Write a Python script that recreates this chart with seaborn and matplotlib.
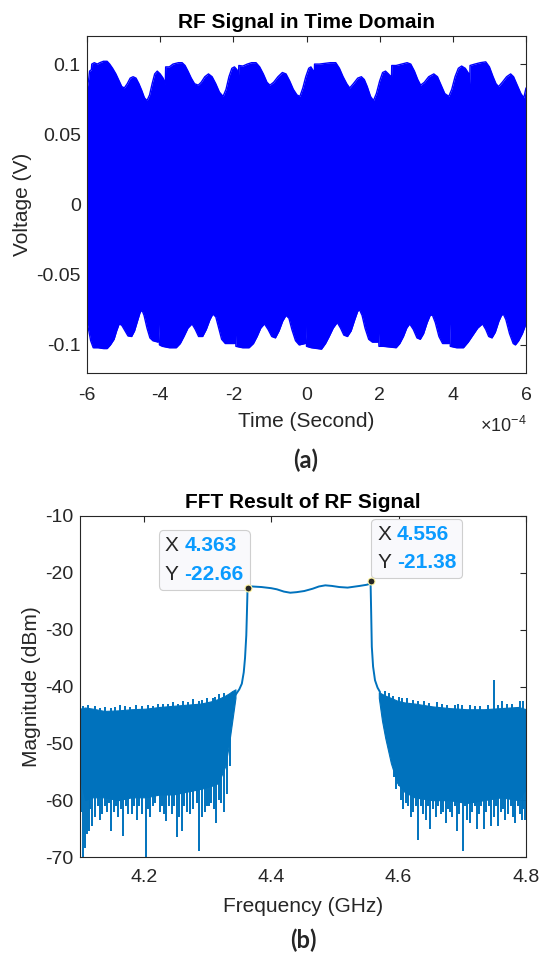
import matplotlib
matplotlib.use("Agg")
import matplotlib.pyplot as plt
import numpy as np
import pandas as pd
import seaborn as sns
from matplotlib.offsetbox import TextArea, HPacker, VPacker, AnnotationBbox

# ---- (a) time-domain envelope, time in units of 1e-4 s ----
t_up = [-6.00, -5.95, -5.93, -5.88, -5.87, -5.80, -5.72, -5.65, -5.55, -5.45, -5.38, -5.30,
        -5.21, -5.12, -5.05, -4.98, -4.90, -4.82, -4.74, -4.66, -4.58, -4.50, -4.43, -4.36,
        -4.29, -4.22, -4.15, -4.08, -4.00, -3.92, -3.86, -3.85, -3.75, -3.65, -3.50, -3.40,
        -3.32, -3.24, -3.15, -3.06, -2.96, -2.88, -2.78, -2.68, -2.58, -2.48, -2.38, -2.28,
        -2.20, -2.12, -2.04, -1.97, -1.90, -1.86, -1.85, -1.74, -1.62, -1.50, -1.38, -1.28,
        -1.18, -1.08, -1.00, -0.90, -0.78, -0.66, -0.56, -0.46, -0.36, -0.26, -0.18, -0.10,
        -0.02, 0.06, 0.12, 0.19, 0.21, 0.22, 0.35, 0.50, 0.65, 0.80, 0.90, 1.00, 1.10, 1.18,
        1.28, 1.40, 1.50, 1.58, 1.66, 1.75, 1.83, 1.91, 2.00, 2.08, 2.16, 2.24, 2.31, 2.32,
        2.33, 2.45, 2.60, 2.75, 2.85, 2.95, 3.04, 3.12, 3.22, 3.34, 3.48, 3.58, 3.68, 3.78,
        3.89, 3.97, 4.06, 4.15, 4.24, 4.34, 4.44, 4.46, 4.47, 4.60, 4.75, 4.90, 5.00, 5.10,
        5.18, 5.25, 5.35, 5.47, 5.58, 5.66, 5.76, 5.86, 5.94, 6.00]
v_up = [0.082, 0.090, 0.095, 0.096, 0.100, 0.101, 0.100, 0.101, 0.102, 0.102, 0.100, 0.097,
        0.093, 0.088, 0.084, 0.083, 0.086, 0.090, 0.091, 0.090, 0.086, 0.081, 0.076, 0.074,
        0.078, 0.086, 0.093, 0.095, 0.093, 0.090, 0.086, 0.098, 0.098, 0.100, 0.101, 0.101,
        0.099, 0.095, 0.090, 0.086, 0.085, 0.087, 0.091, 0.093, 0.091, 0.086, 0.080, 0.077,
        0.082, 0.091, 0.097, 0.098, 0.096, 0.091, 0.099, 0.0986, 0.100, 0.101, 0.101, 0.098,
        0.093, 0.087, 0.085, 0.087, 0.091, 0.094, 0.093, 0.088, 0.082, 0.078, 0.077, 0.083,
        0.091, 0.097, 0.098, 0.095, 0.088, 0.100, 0.100, 0.1005, 0.101, 0.101, 0.097, 0.091,
        0.086, 0.083, 0.086, 0.090, 0.091, 0.089, 0.084, 0.077, 0.074, 0.079, 0.088, 0.094,
        0.095, 0.093, 0.091, 0.086, 0.099, 0.099, 0.100, 0.101, 0.100, 0.095, 0.089, 0.085,
        0.087, 0.091, 0.093, 0.091, 0.085, 0.079, 0.077, 0.082, 0.091, 0.097, 0.0986, 0.097,
        0.093, 0.086, 0.099, 0.100, 0.101, 0.1016, 0.098, 0.091, 0.086, 0.084, 0.087, 0.091,
        0.093, 0.091, 0.085, 0.079, 0.076, 0.083]

t_lo = [-6.00, -5.95, -5.90, -5.83, -5.70, -5.55, -5.45, -5.36, -5.26, -5.19, -5.12, -5.05,
        -4.96, -4.88, -4.78, -4.70, -4.62, -4.55, -4.50, -4.44, -4.36, -4.28, -4.20, -4.06,
        -4.04, -4.02, -3.94, -3.75, -3.56, -3.45, -3.35, -3.24, -3.13, -3.04, -2.95, -2.84,
        -2.74, -2.64, -2.56, -2.48, -2.40, -2.32, -2.22, -1.97, -1.95, -1.93, -1.75, -1.57,
        -1.45, -1.35, -1.25, -1.15, -1.05, -0.95, -0.85, -0.75, -0.65, -0.56, -0.48, -0.40,
        -0.30, -0.20, -0.04, -0.02, 0.00, 0.13, 0.41, 0.52, 0.62, 0.73, 0.84, 0.93, 1.02,
        1.12, 1.22, 1.32, 1.40, 1.45, 1.52, 1.60, 1.70, 1.80, 1.94, 1.96, 1.98, 2.10, 2.45,
        2.55, 2.65, 2.74, 2.82, 2.92, 3.02, 3.11, 3.20, 3.30, 3.38, 3.44, 3.52, 3.62, 3.72,
        3.89, 3.91, 3.93, 4.10, 4.29, 4.42, 4.55, 4.68, 4.81, 4.90, 4.98, 5.07, 5.16, 5.26,
        5.33, 5.38, 5.45, 5.55, 5.65, 5.71, 5.80, 5.90, 6.00]
v_lo = [-0.084, -0.090, -0.097, -0.102, -0.102, -0.1026, -0.1026, -0.100, -0.096, -0.090,
        -0.085, -0.086, -0.090, -0.0936, -0.094, -0.090, -0.083, -0.077, -0.075, -0.079,
        -0.088, -0.095, -0.097, -0.098, -0.085, -0.100, -0.101, -0.102, -0.102, -0.099,
        -0.094, -0.088, -0.085, -0.089, -0.094, -0.094, -0.089, -0.082, -0.078, -0.080,
        -0.088, -0.096, -0.099, -0.099, -0.086, -0.101, -0.102, -0.102, -0.099, -0.094,
        -0.088, -0.085, -0.089, -0.094, -0.095, -0.090, -0.083, -0.079, -0.081, -0.089,
        -0.097, -0.100, -0.099, -0.086, -0.101, -0.102, -0.103, -0.099, -0.094, -0.088,
        -0.084, -0.088, -0.093, -0.094, -0.090, -0.082, -0.076, -0.075, -0.079, -0.088,
        -0.096, -0.098, -0.098, -0.085, -0.101, -0.101, -0.102, -0.099, -0.094, -0.088,
        -0.085, -0.089, -0.095, -0.096, -0.092, -0.084, -0.079, -0.0786, -0.084, -0.094,
        -0.099, -0.099, -0.085, -0.101, -0.102, -0.102, -0.098, -0.093, -0.088, -0.085,
        -0.089, -0.094, -0.095, -0.091, -0.083, -0.079, -0.078, -0.082, -0.092, -0.099,
        -0.100, -0.097, -0.092, -0.085]

time_ticks = [-6, -4, -2, 0, 2, 4, 6]
volt_ticks = [-0.1, -0.05, 0, 0.05, 0.1]
volt_labels = ['-0.1', '-0.05', '0', '0.05', '0.1']

# ---- (b) spectrum (GHz, dBm) ----
band_f = [4.344, 4.350, 4.354, 4.357, 4.359, 4.361, 4.362, 4.363, 4.370, 4.385, 4.400,
          4.409, 4.420, 4.430, 4.440, 4.452, 4.465, 4.475, 4.485, 4.495, 4.507, 4.520,
          4.539, 4.550, 4.553, 4.556, 4.557, 4.558, 4.560, 4.563, 4.567, 4.571]
band_db = [-41.5, -40.5, -39.5, -37.5, -35.0, -31.0, -27.0, -22.66, -22.4, -22.5, -22.7,
           -22.9, -23.3, -23.5, -23.4, -23.2, -22.8, -22.4, -22.2, -22.3, -22.5, -22.6,
           -22.3, -22.1, -22.0, -21.38, -27.0, -33.0, -36.5, -38.9, -40.2, -41.0]

nl_f = [4.100, 4.108, 4.120, 4.138, 4.160, 4.181, 4.203, 4.225, 4.246, 4.268, 4.290,
        4.306, 4.317, 4.328, 4.334, 4.339, 4.344]
nl_hi = [-43.9, -43.7, -43.9, -44.3, -44.2, -44.0, -43.9, -43.6, -43.4, -43.2, -43.0,
         -42.6, -42.2, -41.6, -41.2, -40.8, -40.5]
nl_lo = [-56.0, -60.0, -59.5, -59.5, -60.0, -59.5, -59.5, -59.0, -59.0, -58.5, -58.0,
         -57.5, -57.0, -54.0, -50.0, -46.0, -42.0]

nr_f = [4.569, 4.574, 4.579, 4.588, 4.598, 4.609, 4.625, 4.653, 4.680, 4.707, 4.734,
        4.761, 4.788, 4.800]
nr_hi = [-41.0, -41.3, -41.6, -42.0, -42.5, -42.8, -43.0, -43.5, -43.8, -44.0, -44.0,
         -43.8, -43.6, -44.0]
nr_lo = [-42.0, -46.0, -49.0, -53.5, -57.0, -58.5, -59.5, -60.0, -60.0, -60.5, -60.0,
         -59.5, -60.0, -58.0]

# downward noise spikes
dip_f = [4.102, 4.104, 4.108, 4.111, 4.114, 4.116, 4.119, 4.124, 4.128, 4.131, 4.135,
         4.139, 4.143, 4.146, 4.149, 4.153, 4.157, 4.160, 4.164, 4.168, 4.172, 4.176,
         4.181, 4.185, 4.189, 4.193, 4.197, 4.203, 4.207, 4.210, 4.214, 4.218, 4.225,
         4.229, 4.232, 4.235, 4.239, 4.244, 4.248, 4.252, 4.256, 4.260, 4.264, 4.268,
         4.273, 4.278, 4.283, 4.287, 4.292, 4.296, 4.300, 4.303, 4.306, 4.310, 4.314,
         4.318, 4.322, 4.326, 4.330, 4.336,
         4.593, 4.596, 4.600, 4.604, 4.607, 4.611, 4.615, 4.619, 4.623, 4.627, 4.631,
         4.635, 4.639, 4.643, 4.646, 4.650, 4.654, 4.658, 4.662, 4.666, 4.670, 4.674,
         4.678, 4.680, 4.684, 4.688, 4.691, 4.695, 4.701, 4.705, 4.708, 4.712, 4.716,
         4.720, 4.723, 4.727, 4.730, 4.734, 4.738, 4.742, 4.745, 4.750, 4.753, 4.756,
         4.760, 4.764, 4.767, 4.772, 4.776, 4.780, 4.783, 4.787, 4.790, 4.793, 4.796, 4.799]
dip_db = [-62.0, -70.0, -68.5, -66.0, -65.5, -61.5, -64.5, -63.0, -61.0, -63.5, -62.5,
          -61.0, -62.0, -60.5, -65.5, -62.0, -61.0, -63.0, -61.5, -66.3, -61.0, -62.5,
          -62.5, -61.0, -63.5, -61.0, -62.5, -70.0, -61.5, -63.0, -61.0, -60.5, -62.0,
          -61.0, -62.5, -63.7, -61.0, -62.5, -61.0, -66.5, -63.0, -65.5, -61.0, -62.0,
          -62.5, -61.5, -60.5, -69.0, -63.0, -62.0, -61.0, -61.0, -60.5, -61.5, -64.0,
          -60.0, -60.5, -62.0, -59.0, -54.0,
          -56.0, -58.0, -57.5, -60.0, -61.5, -60.5, -61.0, -63.0, -62.0, -61.0, -67.0,
          -61.0, -62.5, -63.5, -61.0, -65.0, -61.5, -63.0, -61.0, -62.5, -62.0, -64.0,
          -61.5, -62.0, -63.0, -61.0, -65.5, -62.5, -69.0, -61.0, -63.5, -64.0, -62.0,
          -61.0, -65.0, -62.5, -61.0, -65.0, -62.0, -61.0, -64.5, -63.0, -61.0, -64.5,
          -62.0, -61.5, -63.5, -62.5, -61.0, -63.0, -64.0, -61.0, -62.5, -63.5, -61.5, -63.5]

# upward noise spikes on the floor edge (incl. the spur near 4.75 GHz)
peak_f = [4.104, 4.112, 4.124, 4.132, 4.140, 4.148, 4.155, 4.162, 4.170, 4.178, 4.188,
          4.198, 4.206, 4.214, 4.222, 4.230, 4.238, 4.246, 4.254, 4.262, 4.270, 4.278,
          4.286, 4.292, 4.300, 4.308, 4.312, 4.318, 4.326,
          4.578, 4.585, 4.592, 4.600, 4.606, 4.614, 4.622, 4.630, 4.640, 4.648, 4.660,
          4.668, 4.676, 4.688, 4.694, 4.700, 4.712, 4.720, 4.728, 4.740, 4.749, 4.756,
          4.762, 4.770, 4.778, 4.790, 4.796]
peak_db = [-43.4, -43.2, -43.5, -43.8, -43.6, -43.8, -43.6, -43.3, -43.4, -43.6, -43.2,
           -43.5, -43.3, -43.4, -43.0, -43.0, -43.1, -42.8, -43.0, -42.6, -42.7, -42.2,
           -42.5, -42.3, -42.0, -42.0, -41.8, -41.4, -41.2,
           -40.8, -41.2, -41.6, -41.8, -42.1, -42.0, -42.3, -42.5, -42.6, -42.9, -42.8,
           -43.0, -43.2, -43.3, -43.0, -43.2, -43.2, -43.4, -43.5, -43.3, -38.9, -43.2,
           -42.6, -43.1, -43.0, -42.5, -42.6]

tip_x = [4.363, 4.556]
tip_y = [-22.66, -21.38]
freq_ticks = [4.2, 4.4, 4.6, 4.8]
mag_ticks = [-70, -60, -50, -40, -30, -20, -10]

sns.set_theme(style='white')
plt.rcParams['font.family'] = ['Liberation Sans', 'DejaVu Sans']
plt.rcParams['mathtext.fontset'] = 'custom'
plt.rcParams['mathtext.rm'] = 'Liberation Sans'
plt.rcParams['axes.unicode_minus'] = False

dark = '#262626'
mblue = '#0072BD'

fig = plt.figure(figsize=(5.43, 9.57), dpi=100)
ax1 = fig.add_axes([87 / 543, 1 - 373 / 957, 439 / 543, 337 / 957])
ax2 = fig.add_axes([80 / 543, 1 - 857 / 957, 446 / 543, 341 / 957])

# (a)
ax1.fill_between(t_up, 0, v_up, color='blue', lw=0)
ax1.fill_between(t_lo, v_lo, 0, color='blue', lw=0)
sns.lineplot(x=t_up, y=v_up, ax=ax1, color='blue', lw=1, sort=False, estimator=None)
sns.lineplot(x=t_lo, y=v_lo, ax=ax1, color='blue', lw=1, sort=False, estimator=None)
ax1.set_xlim(-6, 6)
ax1.set_ylim(-0.12, 0.12)
ax1.set_xticks(time_ticks)
ax1.set_xticklabels([str(t) for t in time_ticks])
ax1.set_yticks(volt_ticks)
ax1.set_yticklabels(volt_labels)
ax1.set_title('RF Signal in Time Domain', fontsize=15, fontweight='bold', color='black', pad=6)
ax1.set_xlabel('Time (Second)', fontsize=15, color=dark, labelpad=6)
ax1.set_ylabel('Voltage (V)', fontsize=15, color=dark, labelpad=3)
fig.text(527 / 543, 1 - 426 / 957, r'$\times10^{-4}$', ha='right', va='center',
         fontsize=13, color=dark)

# (b)
ax2.fill_between(nl_f, nl_lo, nl_hi, color=mblue, lw=0.8)
ax2.fill_between(nr_f, nr_lo, nr_hi, color=mblue, lw=0.8)
ax2.vlines(dip_f, dip_db, -46, color=mblue, lw=1.4)
ax2.vlines(peak_f, -46, peak_db, color=mblue, lw=1.4)
sns.lineplot(x=band_f, y=band_db, ax=ax2, color=mblue, lw=1.4)
ax2.plot(tip_x, tip_y, 'o', ms=5, mfc=dark, mec='#fff5a0', mew=0.8, zorder=5)
ax2.set_xlim(4.1, 4.8)
ax2.set_ylim(-70, -10)
ax2.set_xticks(freq_ticks)
ax2.set_xticklabels([f'{v:.1f}' for v in freq_ticks])
ax2.set_yticks(mag_ticks)
ax2.set_yticklabels([str(v) for v in mag_ticks])
ax2.set_title('FFT Result of RF Signal', fontsize=15, fontweight='bold', color='black', pad=6)
ax2.set_xlabel('Frequency (GHz)', fontsize=15, color=dark, labelpad=8)
ax2.set_ylabel('Magnitude (dBm)', fontsize=15, color=dark, labelpad=3)

# data tips
for x, y, align, off in zip(tip_x, tip_y, [(1, 0), (0, 0)], [(-3, 3), (5, 6)]):
    r1 = HPacker(children=[TextArea('X', textprops=dict(color=dark, size=15)),
                           TextArea(f'{x:.3f}', textprops=dict(color='#0a9bff', size=15,
                                                              weight='bold'))],
                 sep=4, align='baseline', pad=0)
    r2 = HPacker(children=[TextArea('Y', textprops=dict(color=dark, size=15)),
                           TextArea(f'{y:.2f}', textprops=dict(color='#0a9bff', size=15,
                                                              weight='bold'))],
                 sep=4, align='baseline', pad=0)
    box = VPacker(children=[r1, r2], sep=7, align='left', pad=0)
    ab = AnnotationBbox(box, (x, y), xybox=off, boxcoords='offset points',
                        box_alignment=align, frameon=True, pad=0.4,
                        bboxprops=dict(boxstyle='round,pad=0.4,rounding_size=0.3',
                                       fc='#f9f9fc', ec='#cfcfcf', lw=0.8))
    ax2.add_artist(ab)

for ax, xpad in ((ax1, 10), (ax2, 8.5)):
    ax.tick_params(direction='in', length=4, width=0.8, top=True, right=True,
                   labelsize=14, colors=dark)
    ax.tick_params(axis='x', pad=xpad)
    ax.tick_params(axis='y', pad=4.5)
    for s in ax.spines.values():
        s.set_color(dark)
        s.set_linewidth(0.8)
        s.set_visible(True)

fig.text(306 / 543, 1 - 460 / 957, '(a)', ha='center', va='center', fontsize=17,
         fontweight='bold', family=['Lato', 'DejaVu Sans'])
fig.text(303 / 543, 1 - 940 / 957, '(b)', ha='center', va='center', fontsize=17,
         fontweight='bold', family=['Lato', 'DejaVu Sans'])

fig.savefig('out.png', dpi=100)
